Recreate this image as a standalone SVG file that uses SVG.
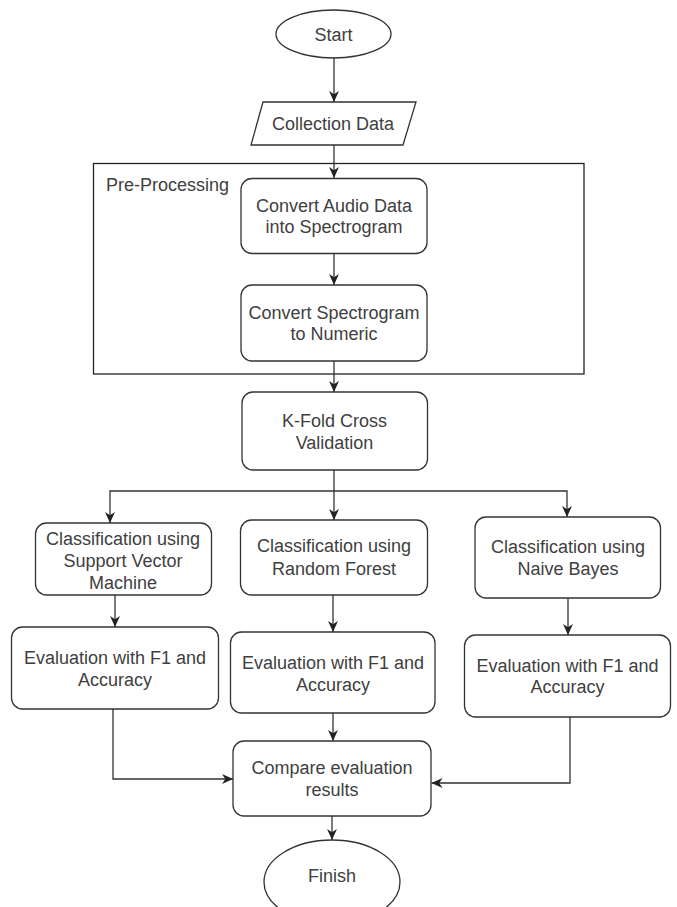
<svg xmlns="http://www.w3.org/2000/svg" width="677" height="907" viewBox="0 0 677 907">
<defs>
<marker id="arr" viewBox="0 0 10 10" refX="10" refY="5" markerWidth="11" markerHeight="11" markerUnits="userSpaceOnUse" orient="auto">
<path d="M0,0.5 L10,5 L0,9.5 L3,5 z" fill="#222"/>
</marker>
<style>
.s{fill:#fff;stroke:#333;stroke-width:1.3}
.c{fill:none;stroke:#333;stroke-width:1.3}
.t{font-family:"Liberation Sans",Arial,sans-serif;font-size:18px;fill:#404040;text-anchor:middle}
.lbl{font-family:"Liberation Sans",Arial,sans-serif;font-size:18px;fill:#404040}
</style>
</defs>
<rect width="677" height="907" fill="#fff"/>

<g id="preprocessing">
<rect x="93.5" y="163.5" width="490.5" height="210.5" fill="none" stroke="#222" stroke-width="1.3"/>
<text class="lbl" x="106" y="190.5">Pre-Processing</text>
</g>

<g id="connectors">
<path class="c" d="M334,58 V102" marker-end="url(#arr)"/>
<path class="c" d="M334,145 V178" marker-end="url(#arr)"/>
<path class="c" d="M334,253.5 V285" marker-end="url(#arr)"/>
<path class="c" d="M334,361 V392" marker-end="url(#arr)"/>
<path class="c" d="M334,470 V520" marker-end="url(#arr)"/>
<path class="c" d="M334,491 H110 V523" marker-end="url(#arr)"/>
<path class="c" d="M334,491 H567 V517" marker-end="url(#arr)"/>
<path class="c" d="M115,595 V627" marker-end="url(#arr)"/>
<path class="c" d="M333,595 V632" marker-end="url(#arr)"/>
<path class="c" d="M568,598 V635" marker-end="url(#arr)"/>
<path class="c" d="M113,709 V779 H233" marker-end="url(#arr)"/>
<path class="c" d="M333,713 V741" marker-end="url(#arr)"/>
<path class="c" d="M570,717 V783 H431.5" marker-end="url(#arr)"/>
<path class="c" d="M332,816 V840" marker-end="url(#arr)"/>
</g>

<g id="start">
<ellipse class="s" cx="333.5" cy="34" rx="57.5" ry="24"/>
<text class="t" x="333.5" y="40.5">Start</text>
</g>

<g id="collection">
<polygon class="s" points="263,102 416,102 403,145 251,145"/>
<text class="t" x="333" y="129.5">Collection Data</text>
</g>

<g id="convert-audio">
<rect class="s" x="241" y="178.5" width="186" height="75" rx="11"/>
<text class="t" x="334" y="211.5">Convert Audio Data</text>
<text class="t" x="334" y="233">into Spectrogram</text>
</g>

<g id="convert-spectrogram">
<rect class="s" x="241" y="285" width="186" height="76" rx="11"/>
<text class="t" x="334" y="318.5">Convert Spectrogram</text>
<text class="t" x="334" y="340">to Numeric</text>
</g>

<g id="kfold">
<rect class="s" x="242" y="392" width="185.5" height="78" rx="11"/>
<text class="t" x="334.5" y="426.5">K-Fold Cross</text>
<text class="t" x="334.5" y="448.5">Validation</text>
</g>

<g id="svm">
<rect class="s" x="35.5" y="523" width="176" height="72" rx="11"/>
<text class="t" x="123" y="545">Classification using</text>
<text class="t" x="123" y="567">Support Vector</text>
<text class="t" x="123" y="588.5">Machine</text>
</g>

<g id="rf">
<rect class="s" x="240.5" y="520" width="187" height="75" rx="11"/>
<text class="t" x="334" y="551.5">Classification using</text>
<text class="t" x="334" y="575">Random Forest</text>
</g>

<g id="nb">
<rect class="s" x="475" y="517" width="185.5" height="81" rx="11"/>
<text class="t" x="568" y="552.5">Classification using</text>
<text class="t" x="568" y="575">Naive Bayes</text>
</g>

<g id="svm-eval">
<rect class="s" x="11.5" y="627" width="207" height="82" rx="11"/>
<text class="t" x="115" y="664">Evaluation with F1 and</text>
<text class="t" x="115" y="686">Accuracy</text>
</g>

<g id="rf-eval">
<rect class="s" x="230.5" y="632" width="204.5" height="81" rx="11"/>
<text class="t" x="333" y="668.5">Evaluation with F1 and</text>
<text class="t" x="333" y="690.5">Accuracy</text>
</g>

<g id="nb-eval">
<rect class="s" x="464.5" y="635" width="206" height="82" rx="11"/>
<text class="t" x="567.5" y="671.5">Evaluation with F1 and</text>
<text class="t" x="567.5" y="693">Accuracy</text>
</g>

<g id="compare">
<rect class="s" x="233" y="741" width="198" height="75" rx="11"/>
<text class="t" x="332" y="774">Compare evaluation</text>
<text class="t" x="332" y="796">results</text>
</g>

<g id="finish">
<ellipse class="s" cx="332" cy="882" rx="68" ry="42"/>
<text class="t" x="332" y="881.5">Finish</text>
</g>
</svg>
